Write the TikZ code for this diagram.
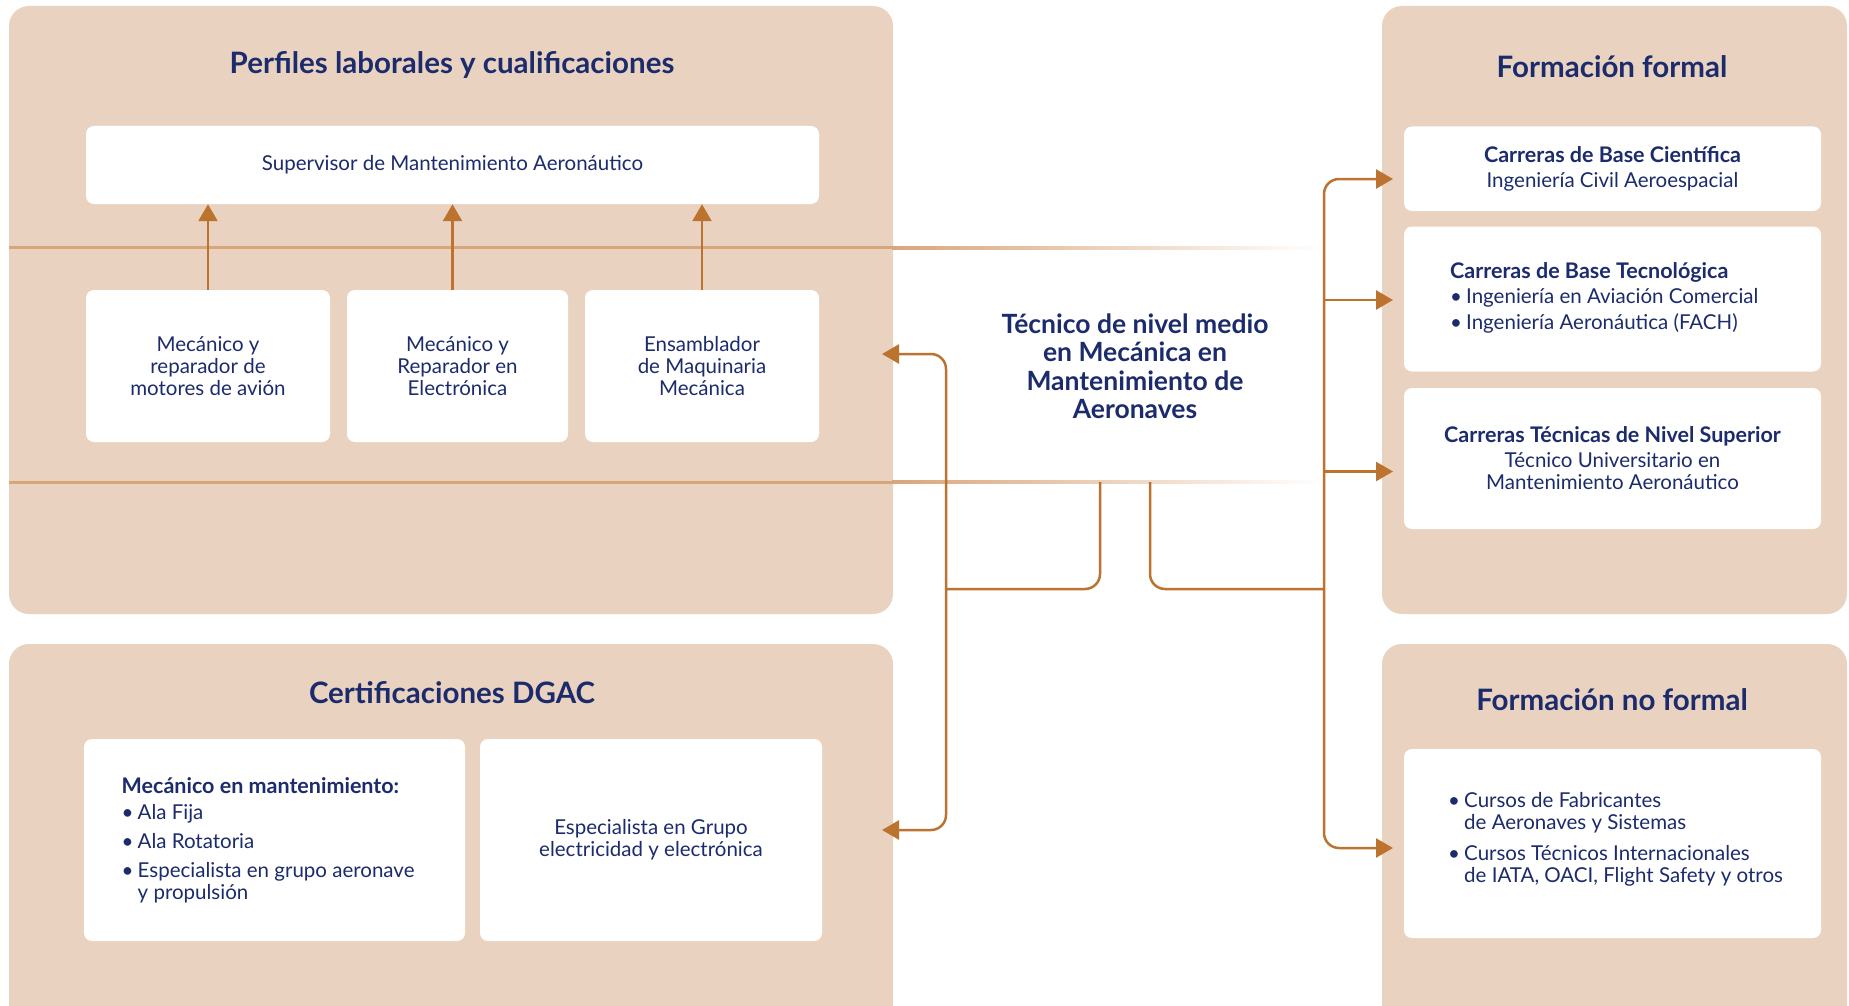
\documentclass[tikz,border=0pt]{standalone}
\usepackage{fontspec}
\setmainfont{Lato}
\usetikzlibrary{arrows.meta}
\definecolor{panelc}{HTML}{E9D3C0}
\definecolor{linec}{HTML}{D9A67C}
\definecolor{connc}{HTML}{BD7330}
\definecolor{navy}{HTML}{1C2B6C}
\newcommand{\bul}{\makebox[16pt][l]{•}}
\newcommand{\ind}{\hspace*{16pt}}
\newcommand{\hd}[1]{{\bfseries\fontsize{21.5}{22}\selectfont #1}}
\begin{document}
\begin{tikzpicture}[x=1pt,y=-1pt,
  panelbox/.style={fill=panelc, rounded corners=20pt, inner sep=0pt},
  wbox/.style={fill=white, rounded corners=8pt, inner sep=0pt, align=center,
     text=navy, font=\fontsize{20.5}{22}\selectfont},
  ptitle/.style={text=navy, font=\bfseries\fontsize{29.5}{32}\selectfont},
  ltext/.style={text=navy, align=left, inner sep=0pt, font=\fontsize{20.5}{22}\selectfont},
  conn/.style={draw=connc, line width=2.5pt, rounded corners=15pt},
  tip/.tip={Triangle[length=17pt,width=19pt]}
]
\useasboundingbox (0,0) rectangle (1849,1006);
\clip (0,0) rectangle (1849,1006);
\fill[white] (0,0) rectangle (1849,1006);

% panels
\node[panelbox, minimum width=884pt, minimum height=608pt] (P1) at (451,310) {};
\node[panelbox, minimum width=884pt, minimum height=396pt] (P2) at (451,842) {};
\node[panelbox, minimum width=465pt, minimum height=608pt] (P3) at (1614.5,310) {};
\node[panelbox, minimum width=465pt, minimum height=396pt] (P4) at (1614.5,842) {};

% horizontal bands
\fill[linec] (9,246) rectangle (893,249);
\shade[left color=linec, right color=white] (892,246) rectangle (1324,249);
\fill[linec] (9,480.5) rectangle (893,483.5);
\shade[left color=linec, right color=white] (892,480.5) rectangle (1324,483.5);

% titles
\node[ptitle] (T1) at (452,65) {Perfiles laborales y cualificaciones};
\node[ptitle] (T2) at (452,693) {Certificaciones DGAC};
\node[ptitle] (T3) at (1612,67) {Formación formal};
\node[ptitle] (T4) at (1612,699.5) {Formación no formal};

% left top boxes
\node[wbox, minimum width=733pt, minimum height=78pt] (sup) at (452.5,165) {Supervisor de Mantenimiento Aeronáutico};
\node[wbox, minimum width=244pt, minimum height=152pt] (m1) at (208,366) {Mecánico y\\reparador de\\motores de avión};
\node[wbox, minimum width=221pt, minimum height=152pt] (m2) at (457.5,366) {Mecánico y\\Reparador en\\Electrónica};
\node[wbox, minimum width=234pt, minimum height=152pt] (m3) at (702,366) {Ensamblador\\de Maquinaria\\Mecánica};

% certificaciones
\node[wbox, minimum width=381pt, minimum height=202pt] (c1) at (274.5,840) {};
\node[ltext, anchor=west] (c1t) at (121.5,840) {\hd{Mecánico en mantenimiento:}\\[4pt]
\bul Ala Fija\\[7pt]
\bul Ala Rotatoria\\[7pt]
\bul Especialista en grupo aeronave\\
\ind y propulsión};
\node[wbox, minimum width=342pt, minimum height=202pt] (c2) at (651,840) {Especialista en Grupo\\electricidad y electrónica};

% formacion formal
\node[wbox, minimum width=417pt, minimum height=84.5pt] (f1) at (1612.5,168.75) {\hd{Carreras de Base Científica}\\[3pt]Ingeniería Civil Aeroespacial};
\node[wbox, minimum width=417pt, minimum height=145pt] (f2) at (1612.5,299) {};
\node[ltext, anchor=west] (f2t) at (1450,298) {\hd{Carreras de Base Tecnológica}\\[3pt]
\bul Ingeniería en Aviación Comercial\\[4pt]
\bul Ingeniería Aeronáutica (FACH)};
\node[wbox, minimum width=417pt, minimum height=141pt] (f3) at (1612.5,458.5) {\hd{Carreras Técnicas de Nivel Superior}\\[3pt]Técnico Universitario en\\Mantenimiento Aeronáutico};

% formacion no formal
\node[wbox, minimum width=417pt, minimum height=189pt] (n1) at (1612.5,843.5) {};
\node[ltext, anchor=west] (n1t) at (1448,839.5) {\bul Cursos de Fabricantes\\
\ind de Aeronaves y Sistemas\\[9pt]
\bul Cursos Técnicos Internacionales\\
\ind de IATA, OACI, Flight Safety y otros};

% center
\node[text=navy, align=center, font=\bfseries\fontsize{26.5}{28.5}\selectfont] (tec) at (1135,366.5)
  {Técnico de nivel medio\\en Mecánica en\\Mantenimiento de\\Aeronaves};

% arrows inside left panel
\draw[conn, -{tip}] (m1.north) -- (m1.north |- sup.south);
\draw[conn, -{tip}] (m2.north -| sup.south) -- (sup.south);
\draw[conn, -{tip}] (m3.north) -- (m3.north |- sup.south);

% coordinates
\coordinate (jl) at (1100,482);
\coordinate (jr) at (1150,482);
\coordinate (aL1) at (882,354);
\coordinate (aL2) at (882,830);
\coordinate (cL) at (946,830);
\coordinate (mL) at (946,589);
\coordinate (aR1) at (1393,179);
\coordinate (aR2) at (1393,300);
\coordinate (aR3) at (1393,471.5);
\coordinate (aR4) at (1393,848);
\coordinate (cR) at (1324,848);
\coordinate (mR) at (1324,589);

% connectors
\draw[conn, {tip}-{tip}] (aL1) -| (cL) -- (aL2);
\draw[conn] (jl) |- (mL);
\draw[conn] (jr) |- (mR);
\draw[conn, {tip}-{tip}] (aR1) -| (cR) -- (aR4);
\draw[conn, -{tip}] (cR |- aR2) -- (aR2);
\draw[conn, -{tip}] (cR |- aR3) -- (aR3);
\end{tikzpicture}
\end{document}
